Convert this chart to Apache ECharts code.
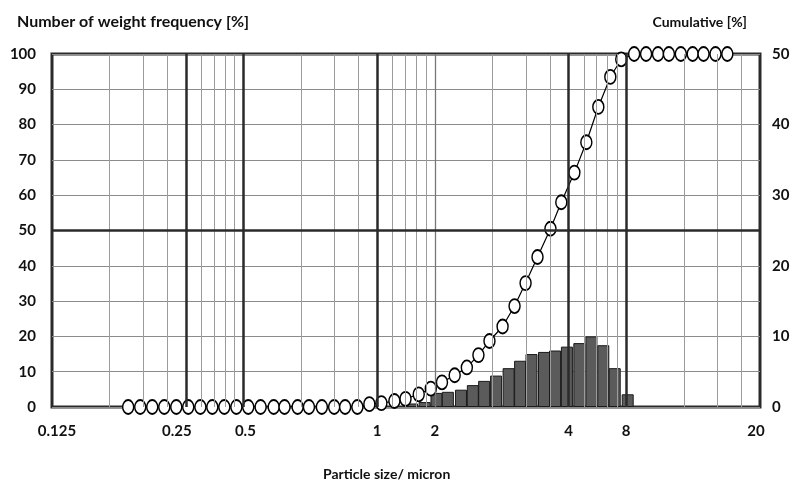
<!DOCTYPE html>
<html>
<head>
<meta charset="utf-8">
<script src="https://cdn.jsdelivr.net/npm/echarts@6/dist/echarts.min.js"></script>
<style>
html, body { margin: 0; padding: 0; background: #fff; }
#chart { width: 794px; height: 484px; }
</style>
</head>
<body>
<div id="chart"></div>
<script>
// x positions are in grid units of the log paper (1 .. 5000)
var sizes = [2.50, 2.89, 3.34, 3.86, 4.46, 5.15, 5.96, 6.88, 7.95, 9.19,
  10.6, 12.3, 14.4, 16.4, 19.2, 22.0, 25.7, 29.8, 34.0, 39.4,
  45.5, 52.6, 61.5, 70.3, 82.4, 95.3, 109, 127, 147, 169,
  193, 226, 261, 298, 344, 402, 458, 536, 619, 715,
  826, 942, 1100, 1270, 1466, 1671, 1929, 2225, 2535, 2927, 3375];
var cumulative = [0, 0, 0, 0, 0, 0, 0, 0, 0, 0,
  0, 0, 0, 0, 0, 0, 0, 0, 0, 0,
  0.8, 1.1, 1.7, 2.3, 3.6, 5.2, 7, 9, 11.2, 14.7,
  18.7, 22.8, 28.6, 35.1, 42.5, 50.5, 58, 66.4, 75, 85,
  93.5, 98.5, 100, 100, 100, 100, 100, 100, 100, 100, 100];

var binCenters = [76, 88.5, 102, 117, 137, 158, 181, 209, 243, 279,
  320, 372, 425, 490, 569, 658, 759, 871, 1018];
var frequency = [0.5, 0.7, 2.0, 2.15, 2.45, 3.1, 3.7, 4.45, 5.5, 6.55,
  7.5, 7.8, 8.0, 8.55, 9.05, 10.0, 8.75, 5.5, 1.8];

var thinLines = [2, 3, 4, 6, 7, 8, 9, 20, 30, 40, 60, 70, 80, 90,
  200, 300, 400, 600, 700, 800, 900, 2000, 3000, 4000];
var mediumLines = [100];
var thickLines = [5, 10, 50, 500, 1000];
var tickValues = [1, 5, 10, 50, 100, 500, 1000, 5000];
var tickLabels = ['0.125', '0.25', '0.5', '1', '2', '4', '8', '20'];
var labelShift = [5, -9, 2, 0, 0, 0, 0, -4];

var FONT = 'Lato, "Open Sans", sans-serif';
var labelStyle = { fontFamily: FONT, fontWeight: 'bold', fontSize: 15, color: '#111' };

var gridLines = [];
thinLines.forEach(function (v) {
  gridLines.push({ xAxis: v, lineStyle: { color: '#9c9c9c', width: 1, type: 'solid' }, label: { show: false } });
});
mediumLines.forEach(function (v) {
  gridLines.push({ xAxis: v, lineStyle: { color: '#777', width: 1.3, type: 'solid' }, label: { show: false } });
});
thickLines.forEach(function (v) {
  gridLines.push({ xAxis: v, lineStyle: { color: '#2a2a2a', width: 2.5, type: 'solid' }, label: { show: false } });
});
gridLines.push({ yAxis: 50, lineStyle: { color: '#2a2a2a', width: 2.5, type: 'solid' }, label: { show: false } });
tickValues.forEach(function (v, i) {
  gridLines.push({
    xAxis: v,
    lineStyle: { color: 'rgba(0,0,0,0)', width: 0 },
    label: {
      show: true, position: 'start', distance: 17, offset: [labelShift[i], 0],
      formatter: tickLabels[i],
      fontFamily: FONT, fontWeight: 'bold', fontSize: 15, color: '#111'
    }
  });
});

var chart = echarts.init(document.getElementById('chart'));
chart.setOption({
  animation: false,
  backgroundColor: '#fff',
  title: [
    { text: 'Number of weight frequency [%]', left: 12, top: 9,
      textStyle: { fontFamily: FONT, fontWeight: 'bold', fontSize: 16, color: '#111' } },
    { text: 'Cumulative [%]', right: 42, top: 10,
      textStyle: { fontFamily: FONT, fontWeight: 'bold', fontSize: 14, color: '#111' } },
    { text: 'Particle size/ micron', left: 318, top: 462,
      textStyle: { fontFamily: FONT, fontWeight: 'bold', fontSize: 14, color: '#111' } }
  ],
  grid: {
    left: 52, right: 34, top: 54, bottom: 77,
    show: true, borderColor: '#2a2a2a', borderWidth: 3, backgroundColor: 'transparent'
  },
  xAxis: {
    type: 'log', logBase: 10, min: 1, max: 5000,
    axisLine: { show: false }, axisTick: { show: false },
    axisLabel: { show: false }, splitLine: { show: false }
  },
  yAxis: [
    {
      type: 'value', min: 0, max: 100, interval: 10,
      axisLine: { show: false }, axisTick: { show: false },
      axisLabel: Object.assign({ margin: 16 }, labelStyle),
      splitLine: { lineStyle: { color: '#8c8c8c', width: 1 } }
    },
    {
      type: 'value', min: 0, max: 50, interval: 10, position: 'right',
      axisLine: { show: false }, axisTick: { show: false },
      axisLabel: Object.assign({ margin: 12 }, labelStyle),
      splitLine: { show: false }
    }
  ],
  series: [
    {
      name: 'grid', type: 'line', data: [], z: 1, silent: true,
      markLine: { silent: true, symbol: ['none', 'none'], animation: false, data: gridLines }
    },
    {
      name: 'Frequency', type: 'bar', yAxisIndex: 1, barWidth: 12, z: 2,
      data: binCenters.map(function (x, i) { return [x, frequency[i]]; }),
      itemStyle: { color: '#5b5b5b', borderColor: '#1a1a1a', borderWidth: 1 }
    },
    {
      name: 'Cumulative', type: 'line', z: 3,
      data: sizes.map(function (x, i) { return [x, cumulative[i]]; }),
      symbol: 'circle', symbolSize: [11, 14],
      itemStyle: { color: '#fff', borderColor: '#000', borderWidth: 1.6 },
      lineStyle: { color: '#000', width: 1.2 }
    }
  ]
});
</script>
</body>
</html>
